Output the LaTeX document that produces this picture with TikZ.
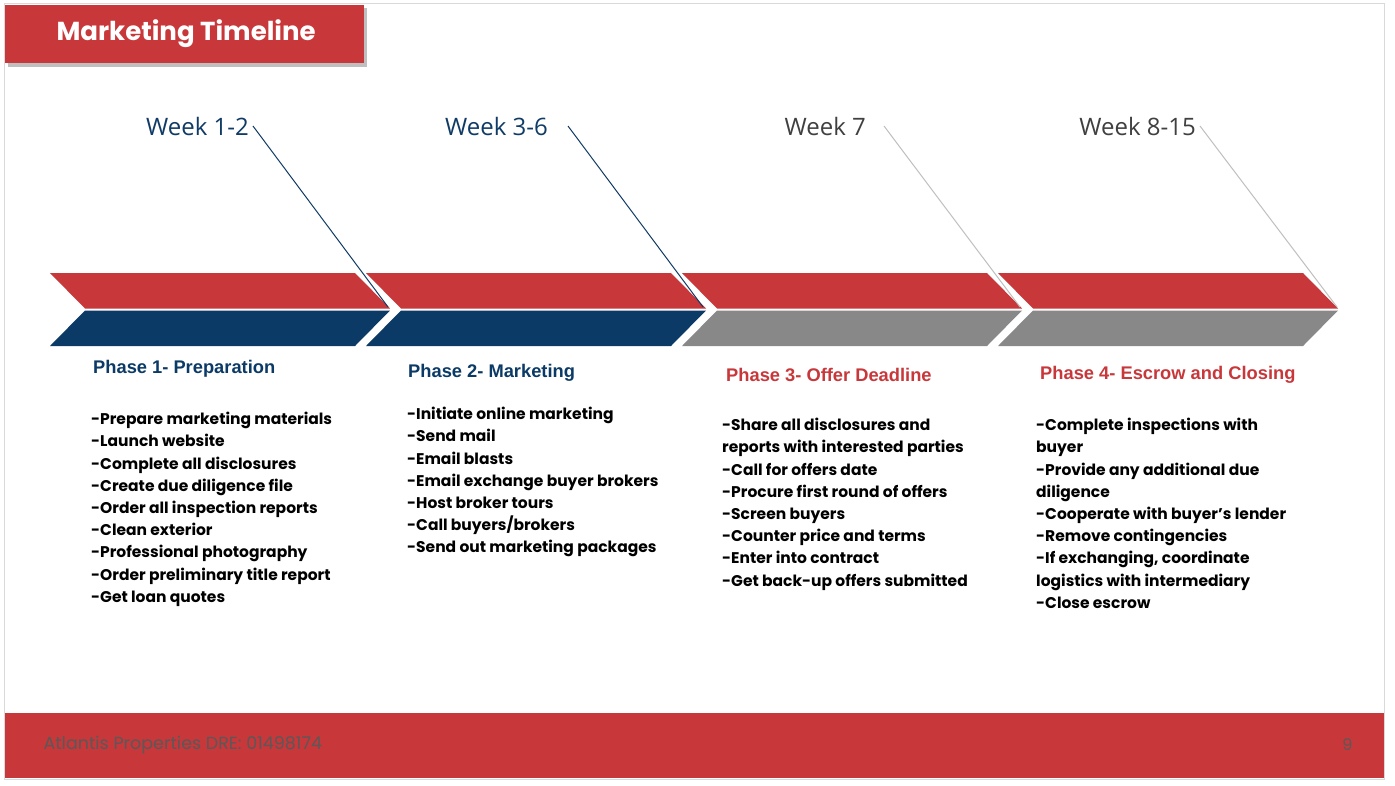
\documentclass[tikz,border=0pt]{standalone}
\usepackage{fontspec}
\setmainfont{Poppins}
\newfontfamily\hfont{Liberation Sans}
\newfontfamily\wfont{Open Sans}
\definecolor{myred}{HTML}{C8373A}
\definecolor{mynavy}{HTML}{0B3A66}
\definecolor{mygray}{HTML}{888888}
\definecolor{wk}{HTML}{103B66}
\begin{document}
\begin{tikzpicture}[x=1pt,y=-1pt,
  body/.style={anchor=north west,align=left,font=\fontsize{15.5}{22.2}\selectfont\bfseries,inner sep=0pt},
  head/.style={anchor=west,font=\hfont\fontsize{18.3}{20}\selectfont\bfseries,inner sep=0pt},
  week/.style={anchor=east,font=\wfont\fontsize{24}{28}\selectfont,inner sep=0pt}]
\useasboundingbox (0,0) rectangle (1395,785);
\fill[white] (0,0) rectangle (1395,785);
\draw[black!15] (4,3) rectangle (1384,779);
% title
\fill[black!25] (8,8) rectangle (367,67);
\fill[myred] (5,5) rectangle (364,63);
\node[anchor=west,text=white,font=\fontsize{26}{30}\selectfont\bfseries] (title) at (53,34) {Marketing Timeline};
% footer
\fill[myred] (5,713) rectangle (1384,778);
\node[anchor=west,text=black!65,font=\fontsize{17.5}{20}\selectfont] (foot) at (40,745) {Atlantis Properties DRE: 01498174};
\node[anchor=east,text=black!65,font=\fontsize{16}{20}\selectfont] (pg) at (1356,745) {9};
% chevrons
\foreach \x/\c in {50/mynavy,366/mynavy,682/mygray,998/mygray}{
  \fill[myred] (\x,273) -- ++(305,0) -- ++(35,35.5) -- ++(-305,0) -- cycle;
  \fill[\c] (\x+35,310.5) -- ++(305,0) -- ++(-35,35.5) -- ++(-305,0) -- cycle;
}
% weeks
\node[week,text=wk] (w1) at (249,126) {Week 1-2};
\node[week,text=wk] (w2) at (548,126) {Week 3-6};
\node[week,text=black!75] (w3) at (866,126) {Week 7};
\node[week,text=black!75] (w4) at (1196,126) {Week 8-15};
\coordinate (t1) at (388,307); \coordinate (t2) at (703,307);
\coordinate (t3) at (1020,307); \coordinate (t4) at (1337,307);
\draw[wk,line width=1pt] (w1.east)++(4,0) -- (t1);
\draw[wk,line width=1pt] (w2.east)++(20,0) -- (t2);
\draw[black!25,line width=1pt] (w3.east)++(18,0) -- (t3);
\draw[black!25,line width=1pt] (w4.east)++(4,0) -- (t4);
% phases
\node[head,text=mynavy] (p1) at (93,369) {Phase 1- Preparation};
\node[head,text=mynavy] (p2) at (408,373) {Phase 2- Marketing};
\node[head,text=myred] (p3) at (726,375) {Phase 3- Offer Deadline};
\node[head,text=myred] (p4) at (1040,375) {Phase 4- Escrow and Closing};
\node[body] (b1) at (91,412) {-Prepare marketing materials\\-Launch website\\-Complete all disclosures\\-Create due diligence file\\-Order all inspection reports\\-Clean exterior\\-Professional photography\\-Order preliminary title report\\-Get loan quotes};
\node[body] (b2) at (407,407) {-Initiate online marketing\\-Send mail\\-Email blasts\\-Email exchange buyer brokers\\-Host broker tours\\-Call buyers/brokers\\-Send out marketing packages};
\node[body] (b3) at (722,418) {-Share all disclosures and\\reports with interested parties\\-Call for offers date\\-Procure first round of offers\\-Screen buyers\\-Counter price and terms\\-Enter into contract\\-Get back-up offers submitted};
\node[body] (b4) at (1036,418) {-Complete inspections with\\buyer\\-Provide any additional due\\diligence\\-Cooperate with buyer’s lender\\-Remove contingencies\\-If exchanging, coordinate\\logistics with intermediary\\-Close escrow};
\end{tikzpicture}
\end{document}
